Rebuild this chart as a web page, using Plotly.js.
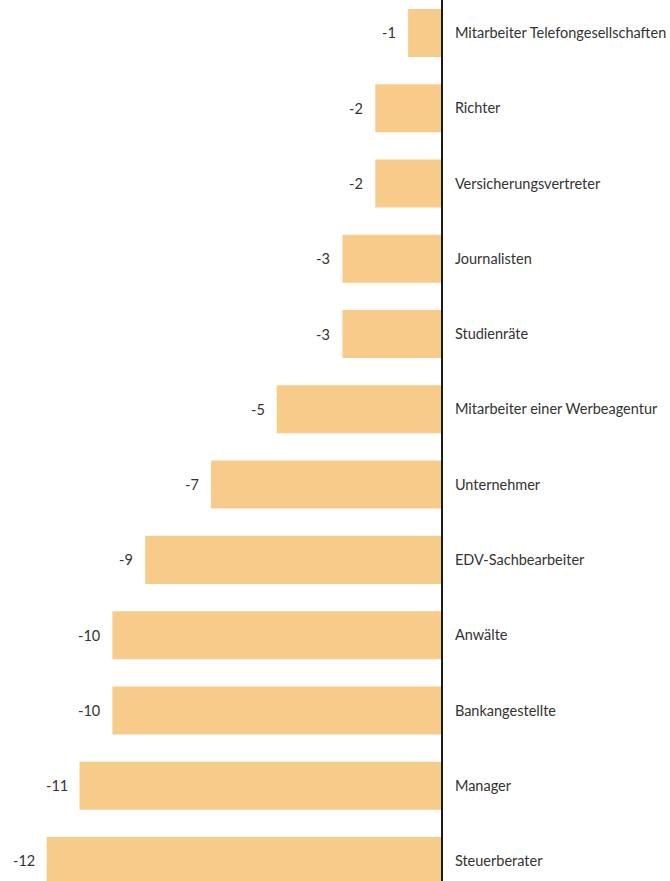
<!DOCTYPE html>
<html>
<head>
<meta charset="utf-8">
<script src="https://cdn.plot.ly/plotly-3.0.1.min.js"></script>
<style>html,body{margin:0;padding:0;background:#fff;}#chart{width:670px;height:881px;}</style>
</head>
<body>
<div id="chart"></div>
<script>
const categories = [
  "Mitarbeiter Telefongesellschaften",
  "Richter",
  "Versicherungsvertreter",
  "Journalisten",
  "Studienräte",
  "Mitarbeiter einer Werbeagentur",
  "Unternehmer",
  "EDV-Sachbearbeiter",
  "Anwälte",
  "Bankangestellte",
  "Manager",
  "Steuerberater"
];
const values = [-1, -2, -2, -3, -3, -5, -7, -9, -10, -10, -11, -12];

const FONT = "Lato, 'Open Sans', sans-serif";
const TXT = "#333333";

const trace = {
  type: "bar",
  orientation: "h",
  x: values,
  y: categories,
  marker: {color: "#F7CB8A", line: {width: 0}},
  hoverinfo: "skip",
  width: 0.638
};

const annotations = values.map((v, i) => ({
  x: v, y: categories[i], xref: "x", yref: "y",
  text: String(v), showarrow: false,
  xanchor: "right", yanchor: "middle", xshift: -10,
  font: {family: FONT, size: 14.5, color: TXT}
}));

const layout = {
  width: 670, height: 881,
  margin: {l: 0, r: 229, t: 0, b: 0, pad: 0},
  paper_bgcolor: "#ffffff", plot_bgcolor: "#ffffff",
  showlegend: false,
  xaxis: {range: [-13.42, 0], showgrid: false, zeroline: false, showticklabels: false, ticks: "", showline: false, fixedrange: true},
  yaxis: {
    type: "category",
    range: [11.266, -0.438],
    side: "right",
    showgrid: false, zeroline: false,
    showline: true, linecolor: "#1a1a1a", linewidth: 2,
    ticks: "", ticklabelstandoff: 9,
    tickfont: {family: FONT, size: 14.5, color: TXT},
    fixedrange: true
  },
  annotations: annotations
};

Plotly.newPlot("chart", [trace], layout, {displayModeBar: false, staticPlot: true});
</script>
</body>
</html>
